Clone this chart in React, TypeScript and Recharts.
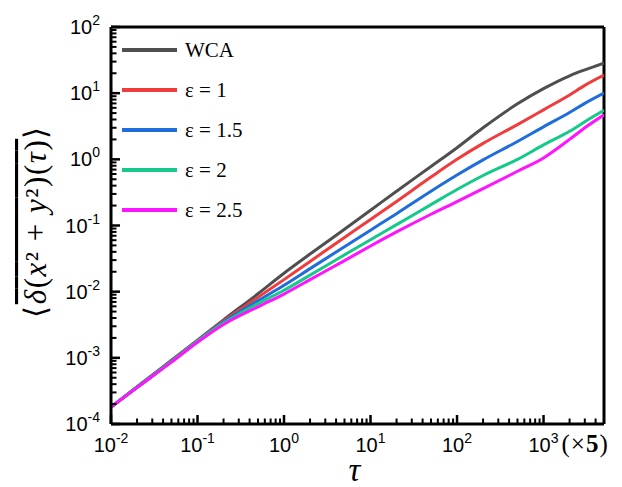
import React from "react";
import { LineChart, Line, XAxis, YAxis, ReferenceLine, Legend } from "recharts";

// tau values (x axis, log scale)
const tau = [0.01, 0.02, 0.05, 0.1, 0.2, 0.5, 1, 2, 5, 10, 20, 50, 100, 200, 500, 1000, 2000, 3000, 5000];

// curves
const wca = [1.8e-4, 3.65e-4, 9.2e-4, 1.85e-3, 3.75e-3, 9.3e-3, 0.019, 0.037, 0.088, 0.17, 0.33, 0.78, 1.5, 3.0, 6.9, 11.7, 18.3, 22.5, 28.5];
const eps1 = [1.8e-4, 3.6e-4, 9.0e-4, 1.83e-3, 3.62e-3, 8.2e-3, 0.0152, 0.0286, 0.066, 0.123, 0.231, 0.54, 1.0, 1.74, 3.35, 5.6, 9.4, 13.1, 18.7];
const eps15 = [1.8e-4, 3.6e-4, 8.9e-4, 1.8e-3, 3.48e-3, 7.3e-3, 0.0125, 0.0223, 0.0478, 0.085, 0.151, 0.33, 0.58, 0.98, 1.86, 3.1, 5.1, 7.0, 10];
const eps2 = [1.8e-4, 3.6e-4, 8.8e-4, 1.78e-3, 3.35e-3, 6.6e-3, 0.0105, 0.0178, 0.036, 0.061, 0.103, 0.207, 0.35, 0.57, 1.0, 1.65, 2.65, 3.7, 5.5];
const eps25 = [1.8e-4, 3.55e-4, 8.6e-4, 1.72e-3, 3.2e-3, 5.9e-3, 0.0092, 0.0152, 0.0295, 0.049, 0.08, 0.148, 0.23, 0.36, 0.66, 1.05, 2.0, 3.0, 4.7];

const seriesNames = ["WCA", "ε = 1", "ε = 1.5", "ε = 2", "ε = 2.5"];
const seriesColors = ["#4f4f4f", "#f03c3c", "#1f6ddb", "#14c98a", "#ff14ff"];

const xMajorTicks = [0.01, 0.1, 1, 10, 100, 1000];
const yMajorTicks = [1e-4, 1e-3, 1e-2, 1e-1, 1, 10, 100];
const minorSteps = [2, 3, 4, 5, 6, 7, 8, 9];

const xTicks = [
  ...xMajorTicks,
  ...xMajorTicks.flatMap((d) => minorSteps.map((m) => m * d)).filter((v) => v < 5000),
];
const yTicks = [
  ...yMajorTicks,
  ...yMajorTicks.slice(0, -1).flatMap((d) => minorSteps.map((m) => m * d)),
];

const data = tau.map((t, i) => ({
  tau: t,
  wca: wca[i],
  e1: eps1[i],
  e15: eps15[i],
  e2: eps2[i],
  e25: eps25[i],
}));

const keys = ["wca", "e1", "e15", "e2", "e25"];

const SANS = '"Liberation Sans", Arial, sans-serif';
const SERIF = '"Liberation Serif", "Times New Roman", serif';

const isMajor = (v: number) => {
  const lg = Math.log10(v);
  return Math.abs(lg - Math.round(lg)) < 1e-6;
};

const XTick = (props: any) => {
  const { x, y, payload } = props;
  const v = payload.value;
  if (!isMajor(v)) {
    return <line x1={x} x2={x} y1={y} y2={y - 5.5} stroke="#000" strokeWidth={2} />;
  }
  const exp = Math.round(Math.log10(v));
  return (
    <g>
      <line x1={x} x2={x} y1={y} y2={y - 9} stroke="#000" strokeWidth={2.5} />
      <text x={x} y={y + 28} textAnchor="middle" fontFamily={SANS} fontSize={20} fill="#000">
        10
        <tspan dy={-9} fontSize={14}>
          {exp}
        </tspan>
      </text>
      {exp === 3 && (
        <text x={x + 18} y={y + 28} fontFamily={SERIF} fontSize={25} letterSpacing={1} fill="#000">
          (×<tspan fontWeight="bold">5</tspan>)
        </text>
      )}
    </g>
  );
};

const YTick = (props: any) => {
  const { x, y, payload } = props;
  const v = payload.value;
  if (!isMajor(v)) {
    return <line x1={x} x2={x + 5.5} y1={y} y2={y} stroke="#000" strokeWidth={2} />;
  }
  const exp = Math.round(Math.log10(v));
  return (
    <g>
      <line x1={x} x2={x + 9} y1={y} y2={y} stroke="#000" strokeWidth={2.5} />
      <text x={x - 11} y={y + 7} textAnchor="end" fontFamily={SANS} fontSize={20} fill="#000">
        10
        <tspan dy={-9} fontSize={14}>
          {exp}
        </tspan>
      </text>
    </g>
  );
};

const YTitle = (props: any) => {
  const vb = props.viewBox || { x: 0, y: 27, width: 111, height: 397 };
  const cx = vb.x + 46;
  const cy = vb.y + vb.height / 2 - 4;
  return (
    <text
      transform={`translate(${cx},${cy}) rotate(-90)`}
      textAnchor="middle"
      fontFamily={SERIF}
      fontSize={31}
      letterSpacing={1.5}
      fill="#000"
    >
      ⟨
      <tspan style={{ textDecoration: "overline" }}>
        <tspan fontStyle="italic">δ</tspan>(<tspan fontStyle="italic">x</tspan>² + <tspan fontStyle="italic">y</tspan>²)(
        <tspan fontStyle="italic">τ</tspan>)
      </tspan>
      ⟩
    </text>
  );
};

const XTitle = (props: any) => {
  const vb = props.viewBox || { x: 111, y: 424, width: 493, height: 63 };
  return (
    <text
      x={vb.x + vb.width / 2 - 3}
      y={vb.y + 57}
      textAnchor="middle"
      fontFamily={SERIF}
      fontStyle="italic"
      fontSize={33}
      fill="#000"
    >
      τ
    </text>
  );
};

const LegendBox = (props: any) => {
  const payload = props.payload || [];
  return (
    <div>
      {payload.map((e: any) => (
        <div key={e.value} style={{ display: "flex", alignItems: "center", height: 40 }}>
          <div style={{ width: 55, height: 3.5, background: e.color }} />
          <span
            style={{
              marginLeft: 8,
              fontFamily: SERIF,
              fontSize: 21,
              lineHeight: "21px",
              color: "#000",
              whiteSpace: "nowrap",
            }}
          >
            {e.value}
          </span>
        </div>
      ))}
    </div>
  );
};

export default function App() {
  return (
    <div style={{ position: "absolute", left: 0, top: 0, width: 622, height: 487, background: "#fff" }}>
      <LineChart width={622} height={487} data={data} margin={{ top: 27, right: 18, bottom: 0, left: 0 }}>
        <XAxis
          dataKey="tau"
          type="number"
          scale="log"
          domain={[0.01, 5000]}
          allowDataOverflow
          ticks={xTicks}
          interval={0}
          tick={<XTick />}
          tickLine={false}
          tickSize={0}
          tickMargin={0}
          height={63}
          axisLine={{ stroke: "#000", strokeWidth: 3 }}
          label={<XTitle />}
        />
        <YAxis
          type="number"
          scale="log"
          domain={[1e-4, 100]}
          allowDataOverflow
          ticks={yTicks}
          interval={0}
          tick={<YTick />}
          tickLine={false}
          tickSize={0}
          tickMargin={0}
          width={111}
          axisLine={{ stroke: "#000", strokeWidth: 3 }}
          label={<YTitle />}
        />
        <ReferenceLine y={100} stroke="#000" strokeWidth={3} />
        <ReferenceLine x={5000} stroke="#000" strokeWidth={3} />
        <Legend
          layout="vertical"
          align="center"
          verticalAlign="middle"
          content={<LegendBox />}
          wrapperStyle={{ left: 122, top: 30, width: 200, height: 200 }}
        />
        {keys.map((k, i) => (
          <Line
            key={k}
            dataKey={k}
            name={seriesNames[i]}
            stroke={seriesColors[i]}
            strokeWidth={3}
            type="monotone"
            dot={false}
            activeDot={false}
            isAnimationActive={false}
          />
        ))}
      </LineChart>
    </div>
  );
}
